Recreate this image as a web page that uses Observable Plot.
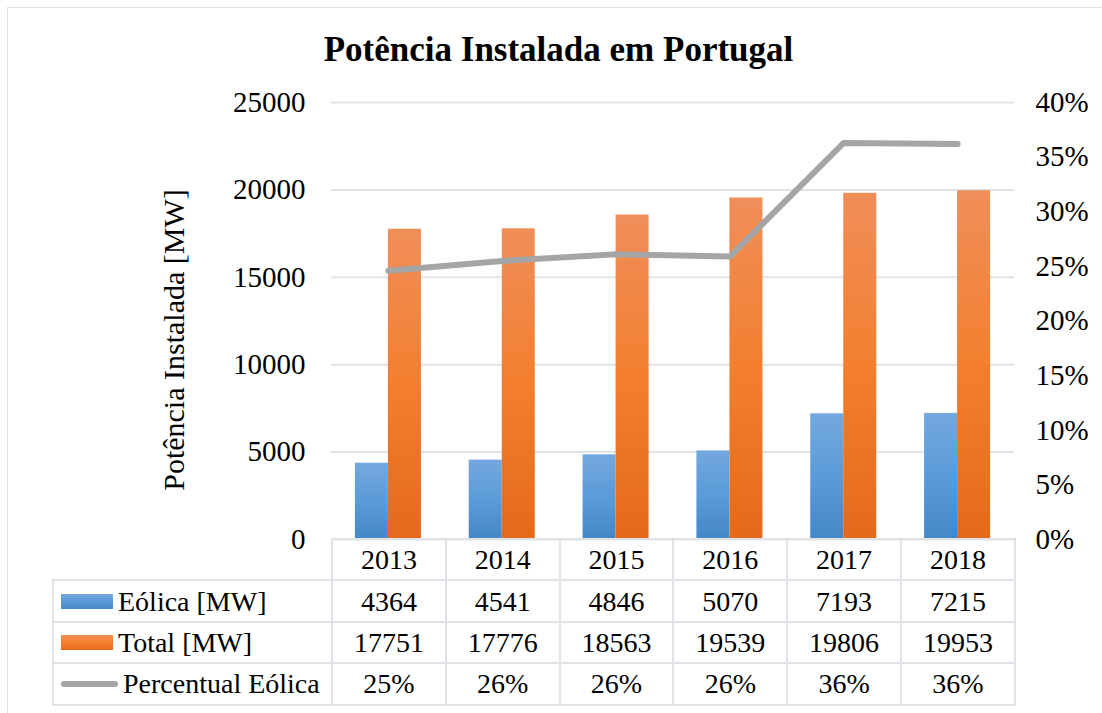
<!DOCTYPE html>
<html><head><meta charset="utf-8">
<style>
html,body{margin:0;padding:0;background:#fff;overflow:hidden;font-family:'Liberation Serif','Times New Roman',serif}
#wrap{position:relative;width:1102px;height:713px;overflow:hidden;color:#000;font-family:'Liberation Serif','Times New Roman',serif}
#frame{position:absolute;left:7px;top:7px;width:1200px;height:800px;border:1.5px solid #dde1e6;box-sizing:border-box}
#title{position:absolute;left:0;width:1117px;top:30px;text-align:center;font-weight:bold;font-size:35px;line-height:40px;font-family:'Liberation Serif'}
#ylab{position:absolute;left:-26px;top:320px;width:400px;height:40px;line-height:40px;text-align:center;font-size:30px;transform:rotate(-90deg);transform-origin:50% 50%;font-family:'Liberation Serif'}
#chart{position:absolute;left:0;top:0}
#chart svg, #chart svg text{font-family:'Liberation Serif','Times New Roman',serif}
#tbl{position:absolute;left:52px;top:538px;border-collapse:collapse;table-layout:fixed;font-size:28px;font-family:'Liberation Serif','Times New Roman',serif}
#tbl td{border:2px solid #dfe3e8;text-align:center;padding:0;height:39.4px;line-height:39px;white-space:nowrap;font-family:'Liberation Serif','Times New Roman',serif}
#tbl td.blank{border:none}
#tbl td.lab{text-align:left;padding-left:7px}
.key{display:inline-block;vertical-align:middle;margin-right:5px;position:relative;top:-3px}
</style>
<script src="https://cdn.jsdelivr.net/npm/d3@7"></script>
<script src="https://cdn.jsdelivr.net/npm/@observablehq/plot@0.6"></script>
<script>
const years = [2013, 2014, 2015, 2016, 2017, 2018];
const eolica = [4364, 4541, 4846, 5070, 7193, 7215];
const total = [17751, 17776, 18563, 19539, 19806, 19953];
const percentual = [24.6, 25.5, 26.1, 25.9, 36.3, 36.2];
const seriesNames = ["Eólica [MW]", "Total [MW]", "Percentual Eólica"];
const yTicks = [0, 5000, 10000, 15000, 20000, 25000];
const pctTicks = [0, 5, 10, 15, 20, 25, 30, 35, 40];

const FONT = "'Liberation Serif','Times New Roman',serif";
const yMax = 25000, pctMax = 40, barW = 0.29;
const blueG = ["#74a8de", "#5b9bd9", "#4487c7"];
const orangeG = ["#f08e5a", "#f37f2e", "#e46a1a"];
const lineColor = "#a5a5a5";
const gridColor = "#dfe3e8";

function buildChart() {
  const rows = years.map((y, i) => ({year: y, eol: eolica[i], tot: total[i], pct: percentual[i]}));
  const svg = Plot.plot({
    width: 1102, height: 713,
    marginLeft: 331, marginRight: 88, marginTop: 102, marginBottom: 174,
    style: {fontFamily: FONT, fontSize: "29px", color: "#000", background: "transparent"},
    x: {type: "linear", domain: [2012.5, 2018.5], axis: null},
    y: {domain: [0, yMax]},
    marks: [
      Plot.gridY(yTicks, {stroke: gridColor, strokeOpacity: 1, strokeWidth: 2}),
      Plot.axisY(yTicks, {anchor: "left", tickSize: 0, tickPadding: 26, tickFormat: d => String(d),
        label: null, fontSize: 29}),
      Plot.axisY(pctTicks.map(p => p / pctMax * yMax), {anchor: "right", tickSize: 0, tickPadding: 21,
        tickFormat: d => Math.round(d / yMax * pctMax) + "%", label: null, fontSize: 29}),
      Plot.rectY(rows, {x1: d => d.year - barW, x2: d => d.year, y1: 0, y2: "eol", fill: "url(#gBlue)", inset: 0}),
      Plot.rectY(rows, {x1: d => d.year, x2: d => d.year + barW, y1: 0, y2: "tot", fill: "url(#gOrange)", inset: 0}),
      Plot.line(rows, {x: "year", y: d => d.pct / pctMax * yMax, stroke: lineColor, strokeWidth: 6,
        strokeLinejoin: "round", strokeLinecap: "round"})
    ]
  });
  const defs = d3.select(svg).insert("defs", ":first-child");
  function grad(id, cols) {
    const g = defs.append("linearGradient").attr("id", id).attr("x1", 0).attr("y1", 0).attr("x2", 0).attr("y2", 1);
    cols.forEach((c, i) => g.append("stop").attr("offset", i / (cols.length - 1)).attr("stop-color", c));
  }
  grad("gBlue", blueG);
  grad("gOrange", orangeG);
  return svg.outerHTML;
}

function buildTable() {
  const keyStyles = [
    `width:52px;height:15px;background:linear-gradient(${blueG.join(",")})`,
    `width:52px;height:15px;background:linear-gradient(${orangeG.join(",")})`,
    `width:57px;height:6px;border-radius:3px;background:${lineColor}`
  ];
  const vals = [eolica.map(String), total.map(String), percentual.map(p => Math.round(p) + "%")];
  let h = '<table id="tbl"><colgroup><col style="width:279px">' + years.map(() => '<col style="width:113.8px">').join("") + '</colgroup>';
  h += '<tr><td class="blank"></td>' + years.map(y => `<td>${y}</td>`).join("") + '</tr>';
  seriesNames.forEach((name, k) => {
    h += `<tr><td class="lab"><span class="key" style="${keyStyles[k]}"></span><span>${name}</span></td>` +
      vals[k].map(v => `<td>${v}</td>`).join("") + '</tr>';
  });
  return h + '</table>';
}
</script>
</head>
<body><div id="wrap"><div id="frame"></div><div id="title">Potência Instalada em Portugal</div><div id="ylab">Potência Instalada [MW]</div>
<div id="chart"><script>document.write(buildChart());</script></div>
<script>document.write(buildTable());</script>
</div></body></html>
